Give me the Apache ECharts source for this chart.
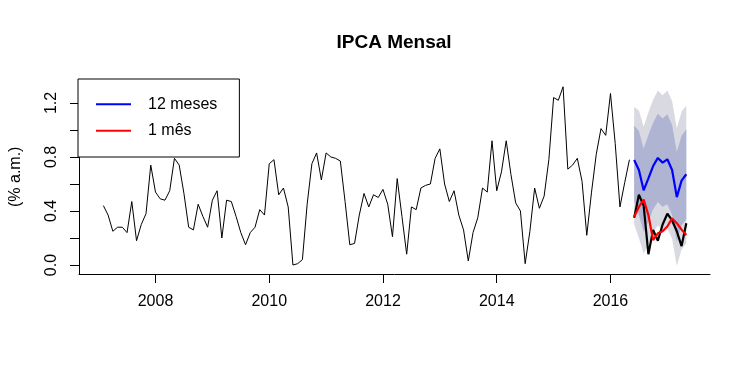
<!DOCTYPE html>
<html><head><meta charset="utf-8">
<script src="https://cdn.jsdelivr.net/npm/echarts@6/dist/echarts.min.js"></script>
<style>html,body{margin:0;padding:0;background:#fff}#c{width:750px;height:372px}</style>
</head><body><div id="c"></div>
<script>
// Observed monthly IPCA, Feb 2007 .. May 2016
const obsStart = [2007, 2];
const observed = [
  0.44,0.37,0.25,0.28,0.28,0.24,0.47,0.18,0.30,0.38,0.74,
  0.54,0.49,0.48,0.55,0.79,0.74,0.53,0.28,0.26,0.45,0.36,0.28,
  0.48,0.55,0.20,0.48,0.47,0.36,0.24,0.15,0.24,0.28,0.41,0.37,
  0.75,0.78,0.52,0.57,0.43,0.00,0.01,0.04,0.45,0.75,0.83,0.63,
  0.83,0.80,0.79,0.77,0.47,0.15,0.16,0.37,0.53,0.43,0.52,0.50,
  0.56,0.45,0.21,0.64,0.36,0.08,0.43,0.41,0.57,0.59,0.60,0.79,
  0.86,0.60,0.47,0.55,0.37,0.26,0.03,0.24,0.35,0.57,0.54,0.92,
  0.55,0.69,0.92,0.67,0.46,0.40,0.01,0.25,0.57,0.42,0.51,0.78,
  1.24,1.22,1.32,0.71,0.74,0.79,0.62,0.22,0.54,0.82,1.01,0.96,
  1.27,0.90,0.43,0.61,0.78
];
// Forecast window Jun 2016 .. May 2017
const fcStart = [2016, 6];
const actual = [0.35,0.52,0.44,0.08,0.26,0.18,0.30,0.38,0.33,0.25,0.14,0.31];
const fc12   = [0.778,0.704,0.553,0.642,0.733,0.793,0.758,0.783,0.704,0.503,0.625,0.672];
const fc1    = [0.358,0.430,0.485,0.370,0.185,0.235,0.250,0.285,0.345,0.310,0.262,0.222];
const lo95   = [0.300,0.200,0.083,0.152,0.243,0.293,0.258,0.273,0.194,-0.007,0.115,0.162];
const lo80   = [0.470,0.370,0.245,0.322,0.413,0.466,0.431,0.450,0.371,0.170,0.292,0.339];
const hi80   = [1.034,0.992,0.861,0.962,1.053,1.120,1.085,1.116,1.037,0.836,0.958,1.005];
const hi95   = [1.170,1.145,1.023,1.132,1.223,1.293,1.258,1.293,1.214,1.013,1.135,1.182];
const xTicks = [2008,2010,2012,2014,2016];
const yTicks = [0,0.2,0.4,0.6,0.8,1.0,1.2];
const yLabels = [0,0.4,0.8,1.2];

const FONT = 'Liberation Sans, Arial, sans-serif';
const tm = (s, i) => s[0] + (s[1] - 1 + i) / 12;
const ser = (s, arr) => arr.map((v, i) => [tm(s, i), v]);

function bandSeries(lo, hi, color) {
  return {
    type:'custom', silent:true, clip:true,
    data:[[tm(fcStart, 0), hi[0]]],
    renderItem:function(params, api) {
      const pts = [];
      hi.forEach((v, i) => pts.push(api.coord([tm(fcStart, i), v])));
      for (let i = lo.length - 1; i >= 0; i--) pts.push(api.coord([tm(fcStart, i), lo[i]]));
      return {type:'polygon', shape:{points:pts}, style:{fill:color, stroke:null}};
    }
  };
}

const chart = echarts.init(document.getElementById('c'));
chart.setOption({
  animation:false,
  title:{text:'IPCA Mensal', left:389, top:28, textAlign:'center',
    textStyle:{fontFamily:FONT, fontSize:19, fontWeight:'bold', color:'#000'}},
  legend:{data:['12 meses','1 mês'], orient:'vertical', left:78, top:79, icon:'rect',
    itemWidth:35, itemHeight:2, itemGap:6.4, borderColor:'#000', borderWidth:1, borderRadius:0,
    backgroundColor:'#fff', padding:[15.3,22,16.3,18],
    textStyle:{fontFamily:FONT, fontSize:16, color:'#000', lineHeight:20, padding:[0,0,0,12]}},
  grid:{left:78, right:40, top:79.6, bottom:98},
  xAxis:{type:'value', min:2006.655, max:2017.75,
    axisLine:{show:true, onZero:false, lineStyle:{color:'#000', width:1}},
    axisTick:{show:true, length:9, customValues:xTicks, lineStyle:{color:'#000'}},
    axisLabel:{customValues:xTicks, margin:20, fontFamily:FONT, fontSize:16, color:'#000',
      formatter:v => String(Math.round(v))},
    splitLine:{show:false}},
  yAxis:{type:'value', min:-0.0665, max:1.373,
    name:'(% a.m.)', nameLocation:'middle', nameRotate:90, nameGap:55,
    nameTextStyle:{fontFamily:FONT, fontSize:16, color:'#000'},
    axisLine:{show:true, onZero:false, lineStyle:{color:'#000', width:1}},
    axisTick:{show:true, length:9, customValues:yTicks, lineStyle:{color:'#000'}},
    axisLabel:{customValues:yLabels, rotate:90, margin:19, fontFamily:FONT, fontSize:16, color:'#000',
      formatter:v => v.toFixed(1)},
    splitLine:{show:false}},
  series:[
    bandSeries(lo95, hi95, '#D9D9E1'),
    bandSeries(lo80, hi80, '#AFB4D3'),
    {type:'line', symbol:'none', data:ser(obsStart, observed), lineStyle:{color:'#000', width:1}, itemStyle:{color:'#000'}},
    {type:'line', symbol:'none', data:ser(fcStart, actual), lineStyle:{color:'#000', width:2.2}, itemStyle:{color:'#000'}},
    {type:'line', name:'12 meses', symbol:'none', data:ser(fcStart, fc12), lineStyle:{color:'#0000FF', width:2.2}, itemStyle:{color:'#0000FF'}},
    {type:'line', name:'1 mês', symbol:'none', data:ser(fcStart, fc1), lineStyle:{color:'#FF0000', width:2.2}, itemStyle:{color:'#FF0000'}}
  ]
});
</script></body></html>
